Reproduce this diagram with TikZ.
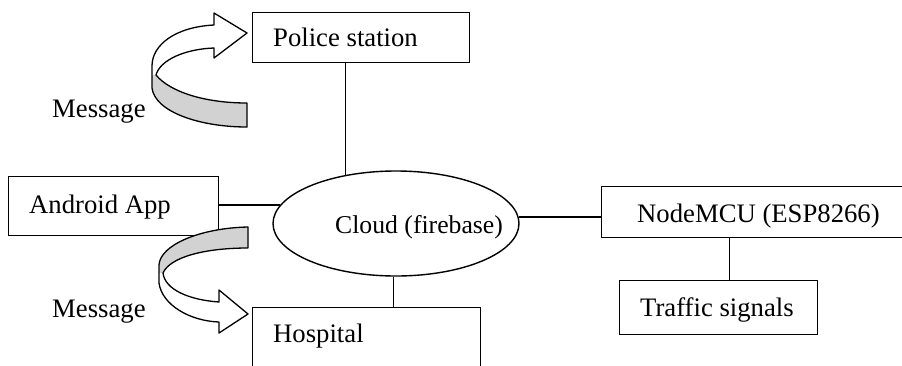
\documentclass[tikz,border=0pt]{standalone}
\usepackage{fontspec}
\setmainfont{Liberation Serif}
\usetikzlibrary{shapes.geometric}
\begin{document}
\begin{tikzpicture}[x=1pt,y=-1pt,
  box/.style={draw, line width=1.4pt, inner sep=0pt, anchor=north west},
  txt/.style={inner sep=0pt, anchor=base west, font=\fontsize{26.7}{30}\selectfont},
  conn/.style={line width=1.4pt},
  ribbon/.style={line width=1.3pt, line join=round},
  shade/.style={fill=gray!35}]
\useasboundingbox (0,0) rectangle (902,365);
\clip (0,0) rectangle (902,365);

% boxes
\node[box, minimum width=217pt, minimum height=50pt] (police) at (252,12) {};
\node[box, minimum width=210pt, minimum height=59pt] (android) at (8,176) {};
\node[box, minimum width=228pt, minimum height=80pt] (hospital) at (252,307) {};
\node[box, minimum width=312pt, minimum height=51pt] (nodemcu) at (601,186) {};
\node[box, minimum width=198pt, minimum height=54pt] (traffic) at (619,280) {};
\node[draw, ellipse, line width=1.4pt, inner sep=0pt, minimum width=246pt, minimum height=105pt] (cloud) at (396,223.5) {};

% texts
\node[txt] (policeT) at (273,46) {Police station};
\node[txt] (androidT) at (29,213) {Android App};
\node[txt] (hospitalT) at (273,342) {Hospital};
\node[txt] (nodemcuT) at (637,222) {NodeMCU (ESP8266)};
\node[txt] (trafficT) at (640,316) {Traffic signals};
\node[txt, font=\fontsize{25.7}{30}\selectfont] (cloudT) at (335,233) {Cloud (firebase)};
\node[txt] (msg1) at (52,117) {Message};
\node[txt] (msg2) at (52,317) {Message};

% connectors
\draw[conn] (cloud.136) -- (cloud.136 |- police.south);
\draw[conn] (cloud.171) -- (cloud.171 -| android.east);
\draw[conn] (cloud.267) -- (cloud.267 |- hospital.north);
\draw[conn] (cloud.3.5) -- (cloud.3.5 -| nodemcu.west);
\draw[conn] ([xshift=11pt]traffic.north) -- ([xshift=11pt]traffic.north |- nodemcu.south);

% top curved arrow
\fill[white] (214,25) -- (214,13) -- (247,33) -- (214,58) -- (214,48)
  .. controls (185,49) and (160,60) .. (156,75)
  .. controls (170,92) and (205,103) .. (247,103) -- (247,127)
  .. controls (200,127) and (155,112) .. (152,88) -- (152,66)
  .. controls (152,45) and (175,27) .. (214,25) -- cycle;
\fill[shade] (156,75) .. controls (170,92) and (205,103) .. (247,103) -- (247,127)
  .. controls (200,127) and (155,112) .. (152,88) -- (152,75) -- cycle;
\draw[ribbon] (214,25) -- (214,13) -- (247,33) -- (214,58) -- (214,48)
  .. controls (185,49) and (160,60) .. (156,75)
  .. controls (170,92) and (205,103) .. (247,103) -- (247,127)
  .. controls (200,127) and (155,112) .. (152,88) -- (152,66)
  .. controls (152,45) and (175,27) .. (214,25) -- cycle;

% bottom curved arrow
\fill[white] (248,227) .. controls (200,228) and (160,245) .. (159,265) -- (159,283)
  .. controls (162,305) and (190,321) .. (219,322) -- (219,333) -- (248,314) -- (219,290) -- (219,302)
  .. controls (190,300) and (165,290) .. (163,273)
  .. controls (170,257) and (205,248) .. (248,248) -- cycle;
\fill[shade] (248,227) .. controls (200,228) and (160,245) .. (159,265) -- (159,273) -- (163,273)
  .. controls (170,257) and (205,248) .. (248,248) -- cycle;
\draw[ribbon] (248,227) .. controls (200,228) and (160,245) .. (159,265) -- (159,283)
  .. controls (162,305) and (190,321) .. (219,322) -- (219,333) -- (248,314) -- (219,290) -- (219,302)
  .. controls (190,300) and (165,290) .. (163,273)
  .. controls (170,257) and (205,248) .. (248,248) -- cycle;
\end{tikzpicture}
\end{document}
